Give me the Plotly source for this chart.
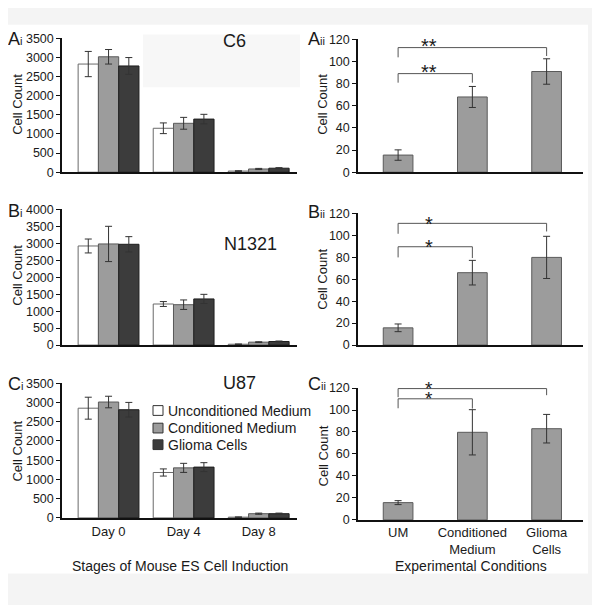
import plotly.graph_objects as go

# The page places the figure 8 px in from the top-left corner (default body margin),
# so page-pixel positions are converted with this offset.
OFF = 8
W, H = 600 - OFF, 605 - OFF

# ---------------- data ----------------
stages = ["Day 0", "Day 4", "Day 8"]
series_names = ["Unconditioned Medium", "Conditioned Medium", "Glioma Cells"]

# C6 (Ai)
c6_um = [2830, 1150, 30]
c6_um_err = [330, 140, 10]
c6_cm = [3020, 1280, 85]
c6_cm_err = [190, 155, 15]
c6_gc = [2780, 1390, 105]
c6_gc_err = [220, 125, 15]

# N1321 (Bi)
n1321_um = [2920, 1210, 25]
n1321_um_err = [205, 72, 8]
n1321_cm = [2980, 1190, 86]
n1321_cm_err = [520, 140, 12]
n1321_gc = [2970, 1360, 105]
n1321_gc_err = [225, 135, 15]

# U87 (Ci)
u87_um = [2850, 1180, 20]
u87_um_err = [285, 93, 6]
u87_cm = [3010, 1300, 110]
u87_cm_err = [150, 118, 15]
u87_gc = [2810, 1320, 110]
u87_gc_err = [190, 115, 15]

conditions = ["UM", "Conditioned<br>Medium", "Glioma<br>Cells"]
# right-hand panels
aii_vals = [15.5, 68, 91]
aii_err = [4.7, 9.5, 11.5]
bii_vals = [15.7, 65.9, 79.8]
bii_err = [3.5, 11.2, 19.2]
cii_vals = [15.7, 79.7, 83]
cii_err = [1.8, 20.6, 13]

# significance brackets: (left cat, right cat, height, left drop, right drop, label)
aii_sig = [(0, 2, 112.6, 103.8, 105.0, "**"), (0, 1, 89.1, 80.9, 80.9, "**")]
bii_sig = [(0, 2, 110.8, 101.3, 103.4, "*"), (0, 1, 89.5, 79.8, 79.2, "*")]
cii_sig = [(0, 2, 119.5, 111.7, 113.5, "*"), (0, 1, 110.2, 101.6, 101.3, "*")]

# ---------------- style ----------------
FONT = "Liberation Sans, Arial, sans-serif"
TXT = "#1a1a1a"
fill_colors = ["#ffffff", "#9c9c9c", "#3c3c3c"]
line_colors = ["#6a6a6a", "#5a5a5a", "#1e1e1e"]
ERR = "#333333"


def px(x):
    return (x - OFF) / W


def py(y):
    return 1 - (y - OFF) / H


def xd(a, b):
    return [px(a), px(b)]


def yd(top, bottom):
    return [py(bottom), py(top)]


fig = go.Figure()

left_sets = [
    (1, [(c6_um, c6_um_err), (c6_cm, c6_cm_err), (c6_gc, c6_gc_err)]),
    (3, [(n1321_um, n1321_um_err), (n1321_cm, n1321_cm_err), (n1321_gc, n1321_gc_err)]),
    (5, [(u87_um, u87_um_err), (u87_cm, u87_cm_err), (u87_gc, u87_gc_err)]),
]
for ax, sets in left_sets:
    for i, (vals, errs) in enumerate(sets):
        fig.add_trace(go.Bar(
            x=stages, y=vals, name=series_names[i],
            marker=dict(color=fill_colors[i], line=dict(color=line_colors[i], width=1)),
            error_y=dict(type="data", array=errs, color=ERR, thickness=1, width=3.5),
            xaxis="x" if ax == 1 else f"x{ax}", yaxis="y" if ax == 1 else f"y{ax}",
            offsetgroup=str(i), showlegend=False,
        ))

right_sets = [(2, aii_vals, aii_err), (4, bii_vals, bii_err), (6, cii_vals, cii_err)]
for ax, vals, errs in right_sets:
    fig.add_trace(go.Bar(
        x=conditions, y=vals, width=0.4,
        marker=dict(color="#9c9c9c", line=dict(color="#5a5a5a", width=1)),
        error_y=dict(type="data", array=errs, color=ERR, thickness=1, width=3.5),
        xaxis=f"x{ax}", yaxis=f"y{ax}", showlegend=False,
    ))

# ---------------- axes ----------------
ydoms = {1: yd(32, 169), 2: yd(33, 169), 3: yd(207, 346), 4: yd(211, 346),
         5: yd(385, 523), 6: yd(390, 525)}
yranges = {1: [0, 3500], 2: [0, 120], 3: [0, 4000], 4: [0, 120], 5: [0, 3500], 6: [0, 120]}

layout = {}
for ax in range(1, 7):
    left = ax % 2 == 1
    xk = "xaxis" if ax == 1 else f"xaxis{ax}"
    yk = "yaxis" if ax == 1 else f"yaxis{ax}"
    layout[xk] = dict(
        domain=xd(62, 297) if left else xd(358, 583),
        range=[-0.62, 2.51] if left else [-0.54, 2.49],
        anchor="y" if ax == 1 else f"y{ax}",
        showline=True, linecolor="#111", linewidth=2, showgrid=False, zeroline=False,
        ticks="", showticklabels=(ax in (5, 6)),
        tickfont=dict(family=FONT, size=13, color=TXT), fixedrange=True,
    )
    layout[yk] = dict(
        domain=ydoms[ax], range=yranges[ax], dtick=500 if left else 20,
        anchor="x" if ax == 1 else f"x{ax}",
        showline=True, linecolor="#111", linewidth=1.5, showgrid=False, zeroline=False,
        ticks="outside", ticklen=4, tickwidth=1, tickcolor="#111",
        tickfont=dict(family=FONT, size=12.5, color=TXT), fixedrange=True,
    )

shapes = [
    dict(type="rect", xref="paper", yref="paper", x0=px(8), x1=px(588),
         y0=py(580), y1=py(18), fillcolor="#ffffff", line=dict(width=0), layer="below"),
    dict(type="rect", xref="paper", yref="paper", x0=px(143), x1=px(300),
         y0=py(82), y1=py(28), fillcolor="#f7f7f7", line=dict(width=0), layer="below"),
]
annotations = []

# significance brackets and stars
star_shift = {2: 1.5, 4: -0.5, 6: 0}
star_size = {2: 20, 4: 20, 6: 19}
for ax, sig in [(2, aii_sig), (4, bii_sig), (6, cii_sig)]:
    xr, yr = f"x{ax}", f"y{ax}"
    for (a, b, h, da, db, lab) in sig:
        shapes.append(dict(type="line", xref=xr, yref=yr, x0=a, x1=b, y0=h, y1=h,
                           line=dict(color="#555", width=1)))
        shapes.append(dict(type="line", xref=xr, yref=yr, x0=a, x1=a, y0=h, y1=da,
                           line=dict(color="#555", width=1)))
        shapes.append(dict(type="line", xref=xr, yref=yr, x0=b, x1=b, y0=h, y1=db,
                           line=dict(color="#555", width=1)))
        annotations.append(dict(x=0.42, y=h, xref=xr, yref=yr, text=lab, showarrow=False,
                                xanchor="center", yanchor="middle", yshift=star_shift[ax],
                                font=dict(family=FONT, size=star_size[ax], color=TXT)))


def plabel(x, y, main, sub):
    annotations.append(dict(
        x=px(x), y=py(y), xref="paper", yref="paper", xanchor="left", yanchor="middle",
        text=f"{main}<span style='font-size:11px'>{sub}</span>", showarrow=False,
        font=dict(family=FONT, size=18, color=TXT)))


plabel(6, 33, "A", "i")
plabel(306, 33, "A", "ii")
plabel(6, 209, "B", "i")
plabel(306, 210, "B", "ii")
plabel(6, 386, "C", "i")
plabel(306, 386, "C", "ii")

for txt, x, y in [("C6", 234, 35), ("N1321", 250, 242), ("U87", 239, 385)]:
    annotations.append(dict(x=px(x), y=py(y), xref="paper", yref="paper", text=txt,
                            xanchor="center", yanchor="middle", showarrow=False,
                            font=dict(family=FONT, size=18, color=TXT)))

for x, y in [(18, 100), (323, 100), (18, 275), (323, 279), (18, 455), (323, 460)]:
    annotations.append(dict(x=px(x), y=py(y), xref="paper", yref="paper", text="Cell Count",
                            xanchor="center", yanchor="middle", textangle=-90, showarrow=False,
                            font=dict(family=FONT, size=13, color=TXT)))

annotations.append(dict(x=px(180), y=py(572), xref="paper", yref="paper",
                        xanchor="center", yanchor="middle",
                        text="Stages of Mouse ES Cell Induction", showarrow=False,
                        font=dict(family=FONT, size=14, color=TXT)))
annotations.append(dict(x=px(471), y=py(572), xref="paper", yref="paper",
                        xanchor="center", yanchor="middle",
                        text="Experimental Conditions", showarrow=False,
                        font=dict(family=FONT, size=14, color=TXT)))

for i, yc in enumerate([413, 431, 448]):
    shapes.append(dict(type="rect", xref="paper", yref="paper",
                       x0=px(153), x1=px(163), y0=py(yc + 5), y1=py(yc - 5),
                       fillcolor=fill_colors[i], line=dict(color="#333", width=1)))
    annotations.append(dict(x=px(165.5), y=py(yc), xref="paper", yref="paper",
                            xanchor="left", yanchor="middle", text=series_names[i],
                            showarrow=False, font=dict(family=FONT, size=14, color=TXT)))

fig.update_layout(
    width=W, height=H, margin=dict(l=0, r=0, t=0, b=0),
    paper_bgcolor="#f4f4f4", plot_bgcolor="rgba(0,0,0,0)",
    barmode="group", bargap=0.19, bargroupgap=0,
    showlegend=False, shapes=shapes, annotations=annotations,
    font=dict(family=FONT, color=TXT),
    **layout,
)

fig.write_html("out.html")
